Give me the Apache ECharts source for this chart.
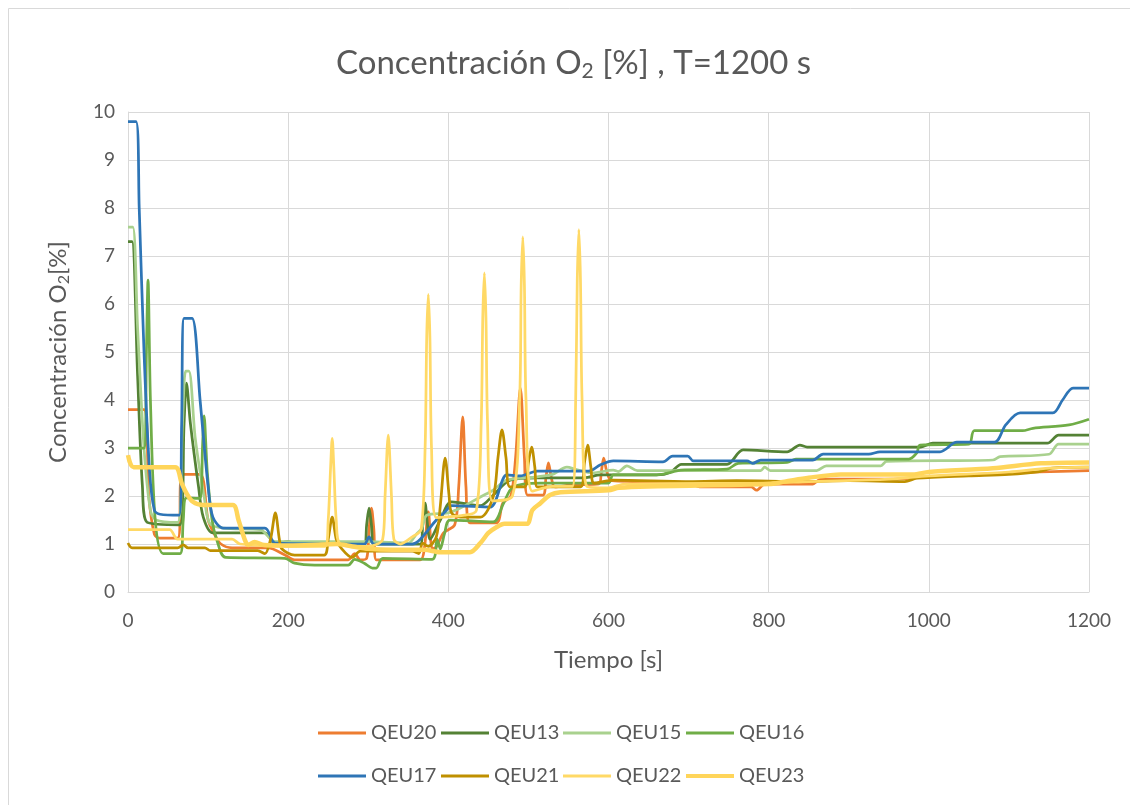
<!DOCTYPE html>
<html>
<head>
<meta charset="utf-8">
<script src="https://cdn.jsdelivr.net/npm/echarts@6/dist/echarts.min.js"></script>
<style>
html,body{margin:0;padding:0;background:#fff;}
#chart{width:1130px;height:805px;}
</style>
</head>
<body>
<div id="chart"></div>
<script>
// ---- DATA: [time (s), O2 concentration (%)] ----
const seriesNames = ['QEU20','QEU13','QEU15','QEU16','QEU17','QEU21','QEU22','QEU23'];
const xTicks = [0, 200, 400, 600, 800, 1000, 1200];
const yTicks = [0,1,2,3,4,5,6,7,8,9,10];

const qeu20 = [[0,3.8],[20,3.8],[26,2.0],[33,1.2],[40,1.12],[62,1.12],[68,2.45],[90,2.45],[100,1.5],[108,1.2],[116,1.0],[130,0.92],[175,0.92],[196,0.77],[208,0.67],[275,0.67],[283,0.8],[290,0.67],[298,0.7],[301,1.3],[304,1.75],[307,1.3],[310,0.67],[365,0.67],[370,0.9],[375,1.67],[380,0.9],[385,0.94],[394,1.23],[408,1.4],[413,2.2],[418,3.65],[422,2.2],[427,1.44],[460,1.44],[468,1.85],[478,2.0],[484,2.8],[490,4.25],[495,2.8],[499,2.02],[518,2.02],[522,2.4],[525,2.69],[529,2.35],[533,2.19],[555,2.23],[588,2.25],[591,2.5],[594,2.79],[598,2.5],[604,2.32],[700,2.28],[714,2.19],[778,2.19],[785,2.12],[795,2.25],[855,2.25],[865,2.35],[950,2.35],[1000,2.4],[1060,2.45],[1138,2.5],[1200,2.53]];

const qeu13 = [[0,7.3],[5,7.3],[12,4.5],[18,2.2],[24,1.45],[65,1.4],[70,3.5],[73,4.35],[78,3.5],[88,2.2],[94,1.56],[106,1.23],[171,1.23],[184,1.0],[200,1.05],[210,1.0],[295,1.0],[298,1.4],[301,1.75],[304,1.4],[307,1.0],[365,1.0],[368,1.4],[371,1.85],[374,1.4],[377,1.1],[390,1.5],[404,1.88],[440,1.8],[455,2.0],[477,2.33],[511,2.38],[570,2.38],[590,2.44],[660,2.44],[677,2.49],[691,2.66],[748,2.66],[768,2.96],[823,2.92],[839,3.06],[848,3.02],[990,3.02],[1005,3.1],[1148,3.1],[1162,3.27],[1200,3.27]];

const qeu15 = [[0,7.6],[6,7.6],[12,5.5],[20,3.0],[28,1.7],[35,1.5],[62,1.45],[68,3.5],[72,4.6],[76,4.6],[84,3.2],[95,2.0],[102,1.43],[119,1.33],[165,1.3],[184,1.05],[300,1.05],[350,1.02],[360,1.2],[367,1.33],[373,1.6],[400,1.65],[415,1.75],[440,1.98],[456,2.12],[473,2.33],[511,2.4],[530,2.45],[548,2.6],[560,2.55],[580,2.48],[606,2.54],[612,2.51],[623,2.63],[636,2.53],[790,2.53],[795,2.6],[802,2.53],[860,2.53],[872,2.63],[940,2.63],[947,2.72],[1080,2.75],[1089,2.82],[1150,2.87],[1162,3.08],[1200,3.08]];

const qeu16 = [[0,3.0],[20,3.0],[23,5.0],[25,6.5],[28,4.0],[34,1.5],[44,0.8],[65,0.8],[69,1.5],[73,1.96],[90,1.95],[93,3.0],[95,3.67],[99,2.5],[105,1.5],[111,1.08],[122,0.72],[196,0.7],[208,0.6],[233,0.56],[275,0.56],[283,0.68],[295,0.6],[305,0.5],[310,0.5],[318,0.7],[380,0.68],[386,1.1],[390,0.9],[395,1.2],[402,1.5],[456,1.46],[469,1.85],[481,2.19],[515,2.27],[600,2.27],[606,2.44],[660,2.44],[677,2.49],[690,2.54],[748,2.56],[762,2.68],[823,2.7],[834,2.77],[975,2.77],[985,2.9],[989,3.06],[1050,3.08],[1057,3.36],[1117,3.36],[1130,3.41],[1175,3.48],[1200,3.6]];

const qeu17 = [[0,9.8],[10,9.8],[14,8.0],[20,5.0],[27,2.5],[33,1.7],[40,1.62],[64,1.6],[67,3.5],[70,5.7],[80,5.7],[90,4.0],[100,2.2],[106,1.56],[119,1.33],[171,1.33],[184,1.02],[295,1.0],[301,1.15],[307,1.0],[355,1.0],[365,1.1],[385,1.5],[396,1.67],[404,1.8],[452,1.77],[473,2.44],[490,2.42],[511,2.52],[575,2.52],[590,2.65],[606,2.73],[668,2.71],[680,2.83],[699,2.83],[706,2.73],[773,2.73],[780,2.68],[790,2.75],[855,2.75],[868,2.87],[925,2.87],[939,2.92],[1014,2.92],[1035,3.12],[1082,3.12],[1096,3.48],[1114,3.73],[1155,3.73],[1167,4.0],[1180,4.25],[1200,4.25]];

const qeu21 = [[0,1.02],[5,0.92],[62,0.92],[69,0.98],[75,0.92],[96,0.92],[103,0.86],[162,0.86],[171,0.8],[178,1.1],[184,1.65],[189,1.1],[192,0.9],[208,0.77],[245,0.77],[250,1.1],[255,1.56],[260,1.1],[265,0.94],[280,0.72],[290,0.85],[355,0.85],[363,0.8],[368,1.02],[375,0.95],[385,1.15],[390,1.8],[396,2.79],[401,2.0],[404,1.65],[415,1.56],[440,1.56],[456,1.98],[462,2.8],[467,3.38],[472,2.8],[477,2.19],[495,2.19],[500,2.7],[504,3.02],[508,2.6],[511,2.19],[565,2.19],[570,2.7],[574,3.06],[578,2.6],[582,2.27],[606,2.33],[700,2.3],[760,2.32],[840,2.3],[900,2.32],[970,2.3],[985,2.37],[1050,2.42],[1100,2.45],[1138,2.51],[1154,2.58],[1200,2.6]];

const qeu22 = [[0,1.3],[52,1.3],[62,1.1],[130,1.1],[140,1.0],[200,0.95],[246,0.95],[250,1.5],[253,2.6],[255,3.2],[257,2.6],[260,1.5],[265,1.0],[300,0.95],[318,1.1],[321,2.0],[325,3.27],[329,2.0],[332,1.1],[340,1.0],[355,1.15],[366,1.3],[371,3.0],[373,5.3],[375,6.2],[377,5.3],[379,3.0],[385,1.55],[420,1.6],[435,1.7],[441,3.5],[443,5.7],[445,6.65],[447,5.7],[449,3.5],[455,1.9],[480,2.0],[489,4.0],[491,6.4],[493,7.4],[495,6.4],[497,4.0],[505,2.1],[530,2.2],[555,2.2],[559,4.0],[561,6.5],[563,7.55],[565,6.5],[567,4.0],[573,2.2],[600,2.17],[620,2.25],[800,2.27],[850,2.3],[950,2.35],[1000,2.42],[1100,2.5],[1150,2.58],[1200,2.6]];

const qeu23 = [[0,2.85],[7,2.6],[59,2.6],[67,2.27],[73,2.06],[81,1.88],[94,1.81],[131,1.81],[138,1.5],[146,1.08],[150,0.98],[158,1.04],[170,0.98],[200,0.97],[230,0.98],[260,1.0],[280,0.95],[300,0.9],[330,0.88],[370,0.88],[390,0.83],[427,0.83],[440,1.02],[450,1.23],[460,1.35],[470,1.42],[498,1.42],[505,1.71],[515,1.85],[527,2.02],[540,2.08],[600,2.12],[613,2.17],[650,2.2],[800,2.25],[820,2.3],[850,2.38],[890,2.45],[980,2.45],[1000,2.5],[1080,2.58],[1140,2.68],[1200,2.7]];

const seriesData = [qeu20, qeu13, qeu15, qeu16, qeu17, qeu21, qeu22, qeu23];
const colors = ['#ED7D31','#548235','#A9D18E','#70AD47','#2E75B6','#BF9000','#FFD966','#FFD55A'];
const widths = [2.75,2.75,2.75,2.75,2.75,2.75,2.75,4.5];

const FONT = 'Lato';
const TXT = '#595959';

const chart = echarts.init(document.getElementById('chart'), null, {renderer:'canvas'});

const legendLefts = [313, 436, 558, 681];
const legendTops = [718, 761];
const legends = seriesNames.map((n, i) => ({
  data: [n],
  left: legendLefts[i % 4],
  top: legendTops[Math.floor(i / 4)],
  icon: 'rect',
  itemWidth: 48,
  itemHeight: i === 7 ? 4 : 3,
  textStyle: {color: TXT, fontSize: 20, fontFamily: FONT},
  selectedMode: false
}));

chart.setOption({
  animation: false,
  color: colors,
  title: {
    text: 'Concentración O{s|2} [%] , T=1200 s',
    left: 331,
    top: 40,
    textStyle: {
      color: TXT, fontSize: 33, fontWeight: 'normal', fontFamily: FONT,
      rich: {s: {fontSize: 21, color: TXT, fontFamily: FONT, verticalAlign: 'bottom', padding: [16,0,0,0]}}
    }
  },
  graphic: [{
    type: 'rect', shape: {x: 8.5, y: 8.5, width: 1140, height: 820},
    style: {fill: 'none', stroke: '#D9D9D9', lineWidth: 1}, silent: true
  }],
  legend: legends,
  grid: {left: 128, right: 41, top: 112, bottom: 213},
  xAxis: {
    type: 'value', min: 0, max: 1200, interval: 200,
    name: 'Tiempo [s]', nameLocation: 'middle', nameGap: 56,
    nameTextStyle: {color: TXT, fontSize: 24, fontFamily: FONT},
    axisLine: {show: true, lineStyle: {color: '#D9D9D9', width: 1}},
    axisTick: {show: false},
    axisLabel: {color: TXT, fontSize: 19, fontFamily: FONT, margin: 19,
      formatter: v => xTicks.includes(v) ? String(v) : ''},
    splitLine: {show: true, lineStyle: {color: '#D9D9D9', width: 1}}
  },
  yAxis: {
    type: 'value', min: 0, max: 10, interval: 1,
    name: 'Concentración O{s|2}[%]', nameLocation: 'middle', nameGap: 56,
    nameTextStyle: {color: TXT, fontSize: 24, fontFamily: FONT,
      rich: {s: {fontSize: 16, color: TXT, fontFamily: FONT, padding: [12,0,0,0]}}},
    axisLine: {show: true, lineStyle: {color: '#D9D9D9', width: 1}},
    axisTick: {show: false},
    axisLabel: {color: TXT, fontSize: 19, fontFamily: FONT, margin: 13,
      formatter: v => yTicks.includes(v) ? String(v) : ''},
    splitLine: {show: true, lineStyle: {color: '#D9D9D9', width: 1}}
  },
  series: seriesNames.map((n, i) => ({
    name: n,
    type: 'line',
    data: seriesData[i],
    showSymbol: false,
    symbol: 'none',
    smooth: 0.3,
    lineStyle: {color: colors[i], width: widths[i]},
    itemStyle: {color: colors[i]},
    z: 2 + i
  }))
});
</script>
</body>
</html>
